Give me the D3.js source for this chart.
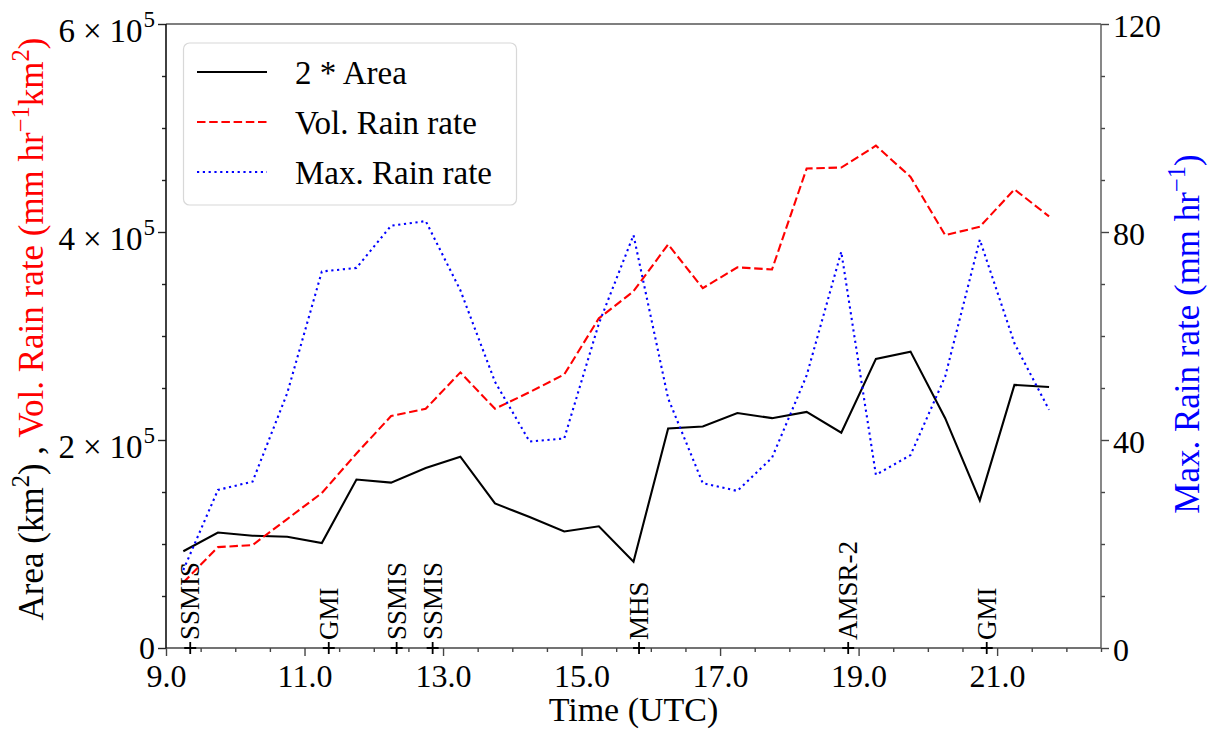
<!DOCTYPE html>
<html>
<head>
<meta charset="utf-8">
<script src="https://cdn.jsdelivr.net/npm/d3@7"></script>
<style>
  html, body { margin: 0; padding: 0; background: #fff; }
  svg { display: block; font-family: "Liberation Serif", "DejaVu Serif", serif; }
</style>
</head>
<body>
<svg width="1214" height="729"></svg>
<script>
// half-hourly times (UTC)
const times = [9.25, 9.75, 10.25, 10.75, 11.25, 11.75, 12.25, 12.75, 13.25, 13.75, 14.25, 14.75, 15.25,
  15.75, 16.25, 16.75, 17.25, 17.75, 18.25, 18.75, 19.25, 19.75, 20.25, 20.75, 21.25, 21.75];
// 2 * Area (km^2)
const area2 = [0.93e5, 1.11e5, 1.08e5, 1.07e5, 1.01e5, 1.62e5, 1.59e5, 1.73e5, 1.84e5, 1.39e5, 1.26e5, 1.12e5, 1.17e5,
  0.83e5, 2.11e5, 2.13e5, 2.26e5, 2.21e5, 2.27e5, 2.07e5, 2.78e5, 2.85e5, 2.21e5, 1.42e5, 2.53e5, 2.51e5];
// Vol. rain rate (mm hr^-1 km^2)
const volRain = [0.63e5, 0.97e5, 0.99e5, 1.24e5, 1.49e5, 1.87e5, 2.23e5, 2.30e5, 2.65e5, 2.30e5, 2.46e5, 2.63e5, 3.17e5,
  3.43e5, 3.88e5, 3.46e5, 3.66e5, 3.64e5, 4.61e5, 4.62e5, 4.83e5, 4.53e5, 3.97e5, 4.05e5, 4.41e5, 4.15e5];
// Max. rain rate (mm hr^-1)
const maxRain = [15, 30.4, 32.0, 49, 72.4, 73.1, 81.2, 82.1, 68.8, 51.2, 39.7, 40.3, 62.4,
  79.4, 48, 31.7, 30.2, 36.6, 52.4, 76.2, 33.3, 37.1, 52.2, 78.5, 58.6, 45.8];

// satellite overpasses
const passTimes = [9.35, 11.35, 12.33, 12.85, 15.83, 18.85, 20.85];
const passNames = ["SSMIS", "GMI", "SSMIS", "SSMIS", "MHS", "AMSR-2", "GMI"];

const xMajor = [9, 11, 13, 15, 17, 19, 21];
const leftMajor = [0, 2e5, 4e5, 6e5];
const rightMajor = [0, 40, 80, 120];

const svg = d3.select("svg");
const L = 166, R = 1101, T = 24, B = 648;

const x = d3.scaleLinear().domain([9, 22.5]).range([L, R]);
const yL = d3.scaleLinear().domain([0, 6e5]).range([B, T]);
const yR = d3.scaleLinear().domain([0, 120]).range([B, T]);

const minorX = d3.range(9, 22.51, 0.5).filter(v => !xMajor.includes(v));
const minorL = d3.range(0, 6e5 + 1, 0.5e5).filter(v => !leftMajor.includes(v));
const minorR = d3.range(0, 121, 10).filter(v => !rightMajor.includes(v));

function styleAxis(g, col) {
  g.select(".domain").remove();
  g.selectAll("line").attr("stroke", col).attr("stroke-width", 1.4);
  g.selectAll("text").attr("fill", "#000").attr("font-family", "Liberation Serif, serif");
}

// minor ticks
svg.append("g").attr("transform", `translate(0,${B})`)
  .call(d3.axisBottom(x).tickValues(minorX).tickSize(4).tickFormat(""))
  .call(g => styleAxis(g, "#444"));
svg.append("g").attr("transform", `translate(${L},0)`)
  .call(d3.axisLeft(yL).tickValues(minorL).tickSize(4).tickFormat(""))
  .call(g => styleAxis(g, "#222"));
svg.append("g").attr("transform", `translate(${R},0)`)
  .call(d3.axisRight(yR).tickValues(minorR).tickSize(4).tickFormat(""))
  .call(g => styleAxis(g, "#444"));

// major ticks
const xAxis = svg.append("g").attr("transform", `translate(0,${B})`)
  .call(d3.axisBottom(x).tickValues(xMajor).tickSize(8).tickPadding(8).tickFormat(d3.format(".1f")))
  .call(g => styleAxis(g, "#444"));
xAxis.selectAll("text").attr("font-size", 32);

const leftAxis = svg.append("g").attr("transform", `translate(${L},0)`)
  .call(d3.axisLeft(yL).tickValues(leftMajor).tickSize(8).tickPadding(3))
  .call(g => styleAxis(g, "#222"));
leftAxis.selectAll("text").each(function(d) {
  const t = d3.select(this).text("").attr("font-size", 32).attr("dy", null);
  if (d === 0) {
    t.attr("y", 10).text("0");
  } else {
    t.attr("y", 17);
    t.append("tspan").attr("font-size", 33).text(d / 1e5);
    t.append("tspan").attr("font-size", 33).attr("dx", 8).text("\u00d7");
    t.append("tspan").attr("font-size", 33).attr("dx", 8).text("10");
    t.append("tspan").attr("font-size", 23).attr("dx", 1).attr("dy", -15).text("5");
  }
});

const rightAxis = svg.append("g").attr("transform", `translate(${R},0)`)
  .call(d3.axisRight(yR).tickValues(rightMajor).tickSize(8).tickPadding(4))
  .call(g => styleAxis(g, "#444"));
rightAxis.selectAll("text").attr("font-size", 32).attr("dy", null).attr("y", 12);

// spines
svg.append("line").attr("x1", L).attr("x2", R).attr("y1", T).attr("y2", T).attr("stroke", "#555").attr("stroke-width", 1.4);
svg.append("line").attr("x1", L).attr("x2", R).attr("y1", B).attr("y2", B).attr("stroke", "#444").attr("stroke-width", 1.4);
svg.append("line").attr("x1", R).attr("x2", R).attr("y1", T).attr("y2", B).attr("stroke", "#555").attr("stroke-width", 1.4);
svg.append("line").attr("x1", L).attr("x2", L).attr("y1", T).attr("y2", B).attr("stroke", "#111").attr("stroke-width", 1.6);

// series
const series = [
  { vals: area2, y: yL, color: "#000", dash: null, label: "2 * Area" },
  { vals: volRain, y: yL, color: "#ff0000", dash: "8.5,3.7", label: "Vol. Rain rate" },
  { vals: maxRain, y: yR, color: "#0000ff", dash: "2.2,3.6", label: "Max. Rain rate" }
];

series.forEach(s => {
  const line = d3.line().x((d, i) => x(times[i])).y(d => s.y(d));
  svg.append("path")
    .datum(s.vals)
    .attr("d", line)
    .attr("fill", "none")
    .attr("stroke", s.color)
    .attr("stroke-width", 2.1)
    .attr("stroke-dasharray", s.dash);
});

// overpass markers and labels
const passes = svg.append("g");
passTimes.forEach((t, i) => {
  const px = x(t);
  passes.append("path")
    .attr("d", `M${px - 6},${B}H${px + 6}M${px},${B - 6}V${B + 6}`)
    .attr("stroke", "#000").attr("stroke-width", 1.8);
  passes.append("text")
    .attr("transform", `translate(${px + 9},${B - 8}) rotate(-90)`)
    .attr("font-size", 27)
    .attr("text-anchor", "start")
    .text(passNames[i]);
});

// rich text helper for superscripts
function rich(textSel, parts, size) {
  parts.forEach(p => {
    const ts = textSel.append("tspan").attr("fill", p.fill).text(p.t);
    if (p.sup) {
      ts.attr("font-size", size * 0.7).attr("dy", -size * 0.4);
    } else {
      ts.attr("font-size", size);
      if (p.after) ts.attr("dy", size * 0.4);
    }
  });
}

// left y label
const ylab = svg.append("text")
  .attr("transform", `translate(43,329) rotate(-90)`)
  .attr("text-anchor", "middle");
rich(ylab, [
  { t: "Area (km", fill: "#000" },
  { t: "2", sup: true, fill: "#000" },
  { t: ") , ", fill: "#000", after: true },
  { t: "Vol. Rain rate (mm hr", fill: "#ff0000" },
  { t: "\u22121", sup: true, fill: "#ff0000" },
  { t: "km", fill: "#ff0000", after: true },
  { t: "2", sup: true, fill: "#ff0000" },
  { t: ")", fill: "#ff0000", after: true }
], 35);

// right y label
const ylab2 = svg.append("text")
  .attr("transform", `translate(1199,334) rotate(-90)`)
  .attr("text-anchor", "middle");
rich(ylab2, [
  { t: "Max. Rain rate (mm hr", fill: "#0000ff" },
  { t: "\u22121", sup: true, fill: "#0000ff" },
  { t: ")", fill: "#0000ff", after: true }
], 35);

// x label
svg.append("text")
  .attr("x", (L + R) / 2).attr("y", 721)
  .attr("text-anchor", "middle")
  .attr("font-size", 34)
  .text("Time (UTC)");

// legend
const lg = svg.append("g");
lg.append("rect")
  .attr("x", 183.5).attr("y", 43).attr("width", 333).attr("height", 162).attr("rx", 6)
  .attr("fill", "#fff").attr("fill-opacity", 0.85)
  .attr("stroke", "#d8d8d8").attr("stroke-width", 1.2);
series.forEach((s, i) => {
  const ry = 72 + i * 50;
  lg.append("line")
    .attr("x1", 197).attr("x2", 267).attr("y1", ry).attr("y2", ry)
    .attr("stroke", s.color).attr("stroke-width", 2.1)
    .attr("stroke-dasharray", s.dash);
  lg.append("text")
    .attr("x", 295).attr("y", ry + 11.5)
    .attr("font-size", 33)
    .text(s.label);
});
</script>
</body>
</html>
